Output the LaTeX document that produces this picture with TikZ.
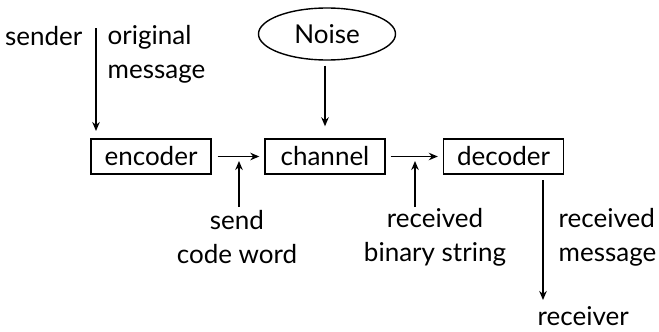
\documentclass[tikz,border=0pt]{standalone}
\usepackage{fontspec}
\setmainfont{Lato}
\usetikzlibrary{arrows.meta,shapes}
\tikzset{
  block/.style = {draw, rectangle, minimum width=120pt, minimum height=35pt,
    inner sep=0pt, font=\fontsize{26}{34}\selectfont},
  txt/.style = {inner sep=0pt, font=\fontsize{26}{34}\selectfont},% plain labels
}
\begin{document}
\begin{tikzpicture}[x=1pt,y=-1pt,->,>={Stealth[length=9pt,width=7.5pt]},line width=1.4pt]
\useasboundingbox (0,0) rectangle (659,332);
% the three stages
\node [block] (encoder) at (151,156.5) {encoder};
\node [block] (channel) at (325,156.5) {channel};
\node [block] (decoder) at (503.5,156.5) {decoder};
\node [txt, draw, ellipse, minimum width=137pt, minimum height=52pt] (noise) at (327,34) {Noise};
% labels
\node [txt, anchor=east] (sender) at (83,36) {sender};
\node [txt, anchor=west, align=left] (original) at (107,54) {original\\message};
\node [txt, align=center] (sendcode) at (237,237) {send\\code word};
\node [txt, align=center] (binary) at (435,237) {received\\binary string};
\node [txt, anchor=west, align=left] (recmsg) at (558,237) {received\\message};
\node [txt, anchor=west] (receiver) at (537,316) {receiver};
% free ends
\coordinate (s1) at (96,28);
\coordinate (s2) at (96,131);
\coordinate (c1) at (239,207);
\coordinate (c2) at (239,161);
\coordinate (b1) at (415,207);
\coordinate (b2) at (415,161);
\coordinate (d1) at (543,180);
\coordinate (d2) at (543,300);
% connectors
\draw (s1) -- (s2);
\draw [shorten <=5pt, shorten >=12pt] (channel.north |- noise.south) -- (channel.north);
\draw [shorten <=6pt, shorten >=5pt] (encoder) -- (channel);
\draw [shorten <=5pt, shorten >=5pt] (channel) -- (decoder);
\draw (c1) -- (c2);
\draw (b1) -- (b2);
\draw (d1) -- (d2);
\end{tikzpicture}
\end{document}
